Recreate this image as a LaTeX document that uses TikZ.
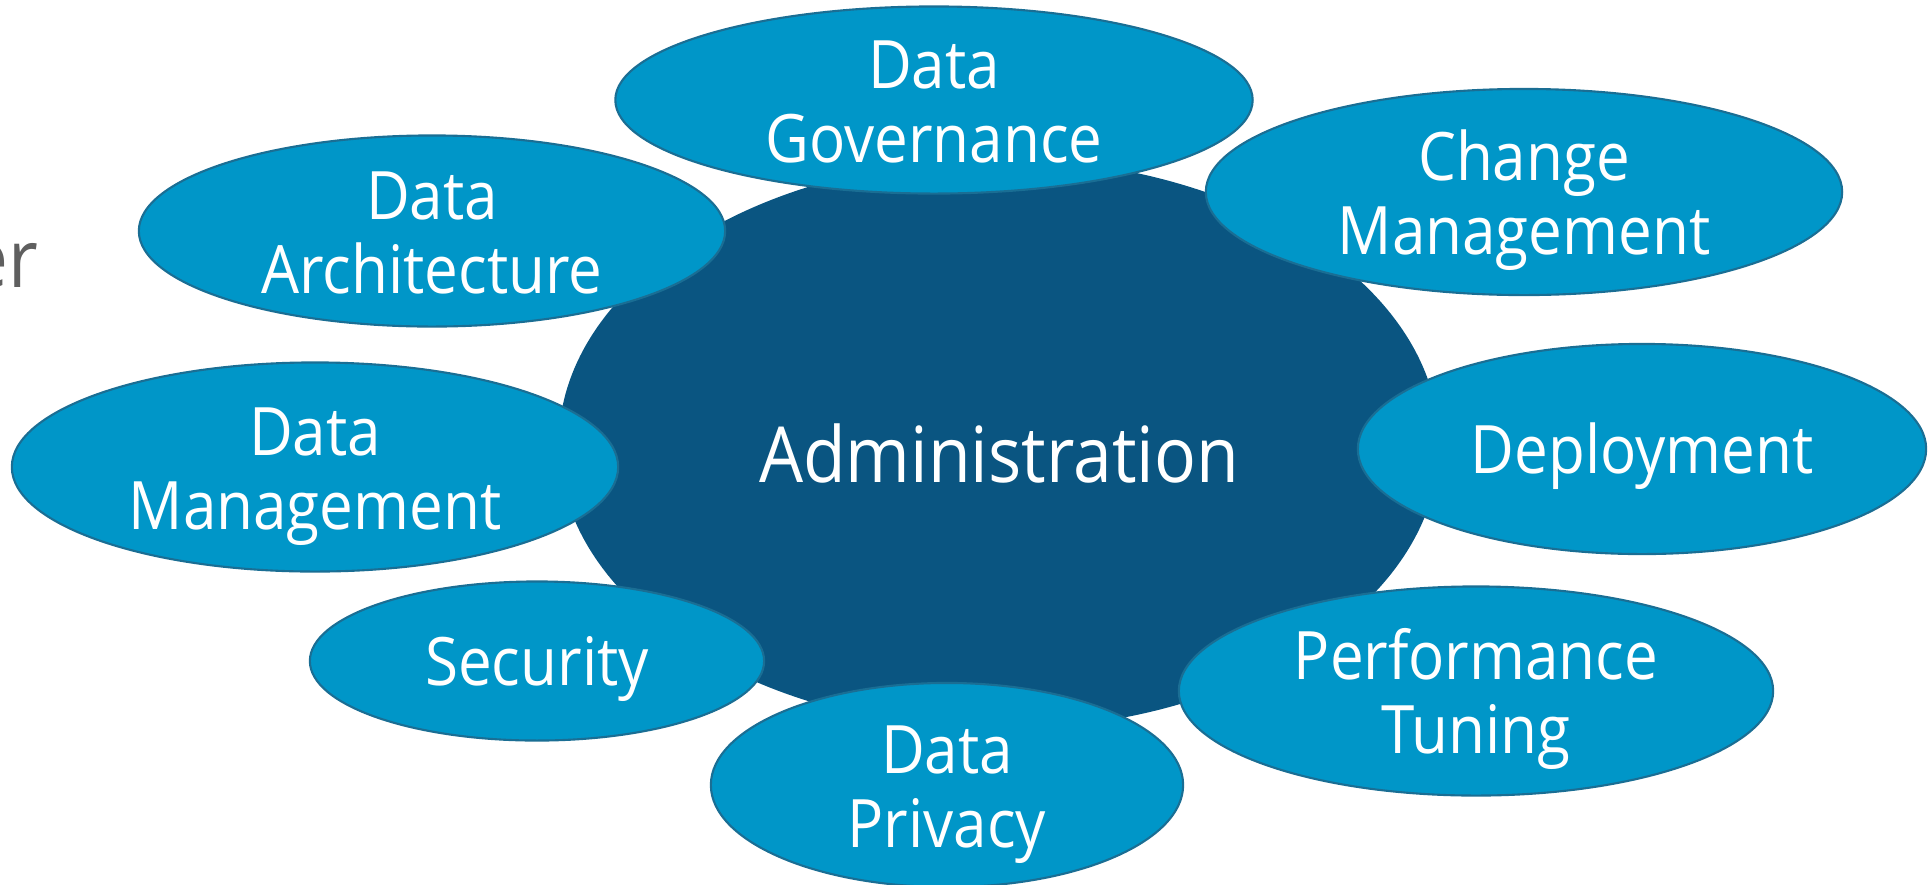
\documentclass[tikz,border=0pt]{standalone}
\usepackage{fontspec}
\setmainfont{Open Sans}[FakeStretch=0.9]
\usetikzlibrary{shapes.geometric}

\definecolor{admindark}{HTML}{0A5581}
\definecolor{arealight}{HTML}{0096C8}
\definecolor{arealine}{HTML}{1A6E94}
\definecolor{restgrey}{HTML}{5F5F5F}

\begin{document}
\begin{tikzpicture}[x=0.01cm,y=-0.01cm,
    area/.style={ellipse,draw=arealine,line width=0.6pt,fill=arealight,text=white,inner sep=0pt,align=center,
        font=\fontsize{19}{21.3}\selectfont,text height=35.8pt,text depth=0pt},
    oneline/.style={text height=14pt,text depth=0pt}]

    \clip (0,0) rectangle (1929,884);

    \node[anchor=base east,inner sep=0pt,text=restgrey,font=\fontsize{23}{27}\selectfont] (rest) at (39,287) {er};

    \node[ellipse,fill=admindark,text=white,inner sep=0pt,minimum width=8.8cm,minimum height=5.7cm,
        font=\fontsize{22}{26}\selectfont,text height=22pt,text depth=0pt] (admin) at (999,444) {Administration};

    \node[area,minimum width=6.37cm,minimum height=1.87cm] (gov) at (934,100) {Data\\Governance};
    \node[area,minimum width=6.36cm,minimum height=2.06cm] (change) at (1524,192) {Change\\Management};
    \node[area,minimum width=5.86cm,minimum height=1.91cm] (arch) at (432,231) {Data\\Architecture};
    \node[area,oneline,minimum width=5.68cm,minimum height=2.10cm] (deploy) at (1642,449) {Deployment};
    \node[area,minimum width=6.06cm,minimum height=2.09cm] (mgmt) at (315,467) {Data\\Management};
    \node[area,oneline,minimum width=4.54cm,minimum height=1.59cm] (security) at (537,661) {Security};
    \node[area,minimum width=5.94cm,minimum height=2.09cm] (perf) at (1476,691) {Performance\\Tuning};
    \node[area,minimum width=4.72cm,minimum height=2.04cm] (privacy) at (947,785) {Data\\Privacy};

\end{tikzpicture}
\end{document}
